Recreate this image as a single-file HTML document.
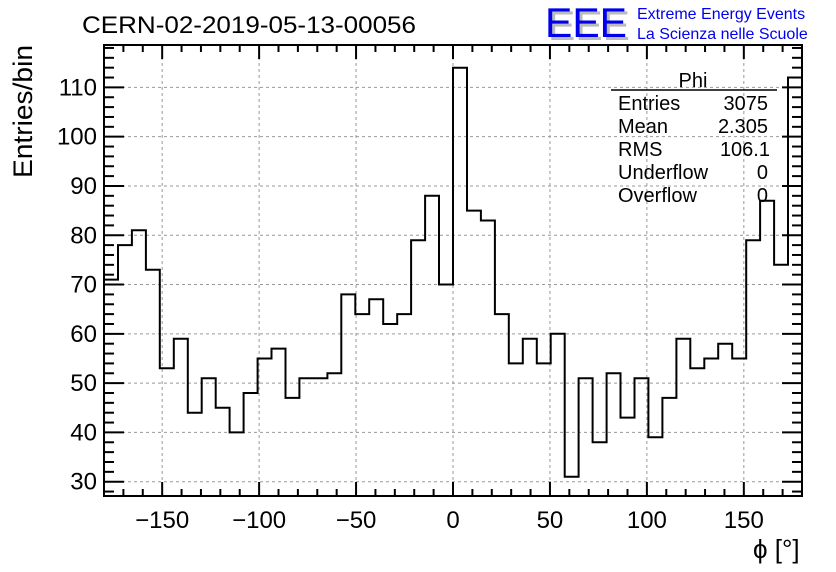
<!DOCTYPE html>
<html><head><meta charset="utf-8"><style>
html,body{margin:0;padding:0;background:#fff;}
svg{display:block;font-family:"Liberation Sans",Arial,sans-serif;}
</style></head><body>
<svg id="chart" width="836" height="572" viewBox="0 0 836 572" xmlns="http://www.w3.org/2000/svg">
<rect width="836" height="572" fill="#fff"/>
<text x="82" y="33" font-size="24" fill="#000" textLength="334" lengthAdjust="spacingAndGlyphs">CERN-02-2019-05-13-00056</text>
<g>
<text x="548" y="40" font-size="42" fill="#bbb" textLength="82" lengthAdjust="spacingAndGlyphs">EEE</text>
<text x="545" y="37" font-size="42" fill="#0000ee" textLength="82" lengthAdjust="spacingAndGlyphs">EEE</text>
<text x="637" y="19" font-size="16" fill="#0000ee">Extreme Energy Events</text>
<text x="637" y="39" font-size="16" fill="#0000ee">La Scienza nelle Scuole</text>
</g>
<g id="grid"></g>
<g id="ticks"></g>
<path id="hist" fill="none" stroke="#000" stroke-width="2"/>
<rect x="104" y="45" width="698" height="451" fill="none" stroke="#000" stroke-width="2"/>
<g id="labels"></g>
<text transform="translate(32,178) rotate(-90)" font-size="27" fill="#000" textLength="133" lengthAdjust="spacingAndGlyphs">Entries/bin</text>
<text x="753" y="558" font-size="26" fill="#000">ϕ [°]</text>
<g font-size="20" fill="#000">
<text x="693" y="87" text-anchor="middle">Phi</text>
<line x1="611" y1="90" x2="777" y2="90" stroke="#000" stroke-width="1.5"/>
<text x="618" y="110">Entries</text><text x="768" y="110" text-anchor="end">3075</text>
<text x="618" y="133">Mean</text><text x="768" y="133" text-anchor="end">2.305</text>
<text x="618" y="156">RMS</text><text x="770" y="156" text-anchor="end">106.1</text>
<text x="618" y="179">Underflow</text><text x="768" y="179" text-anchor="end">0</text>
<text x="618" y="202">Overflow</text><text x="768" y="202" text-anchor="end">0</text>
</g>
</svg>
<script>
const binEdgesMin = -180;
const binWidthDeg = 7.2;
const counts = [71,78,81,73,53,59,44,51,45,40,48,55,57,47,51,51,52,68,64,67,62,64,79,88,70,
114,85,83,64,54,59,54,60,31,51,38,52,43,51,39,47,59,53,55,58,55,79,87,74,112];
const xTicks = [-150,-100,-50,0,50,100,150];
const xTickLabels = ["\u2212150","\u2212100","\u221250","0","50","100","150"];
const yTicks = [30,40,50,60,70,80,90,100,110];
const yTickLabels = ["30","40","50","60","70","80","90","100","110"];

const L=104,R=802,T=45,B=496;
const xMin=-180,xMax=180,yMin=27.1,yMax=118.6;
const X=v=>L+(v-xMin)/(xMax-xMin)*(R-L);
const Y=v=>B-(v-yMin)/(yMax-yMin)*(B-T);
const NS='http://www.w3.org/2000/svg';
function mk(tag,attrs,parent){const e=document.createElementNS(NS,tag);for(const k in attrs)e.setAttribute(k,attrs[k]);parent.appendChild(e);return e;}
const grid=document.getElementById('grid'),ticks=document.getElementById('ticks'),labels=document.getElementById('labels');
xTicks.forEach((t,i)=>{
  const g=mk('line',{x1:X(t),x2:X(t),y1:T,y2:B,stroke:'#999','stroke-width':1,'stroke-dasharray':'3,3'},grid);
  
  
  const lb=mk('text',{x:X(t),y:528,'font-size':24,'text-anchor':'middle',fill:'#000'},labels);
  lb.textContent=xTickLabels[i];
  
  
});
yTicks.forEach((t,i)=>{
  const g=mk('line',{x1:L,x2:R,y1:Y(t),y2:Y(t),stroke:'#999','stroke-width':1,'stroke-dasharray':'3,3'},grid);
  
  
  const lb=mk('text',{x:97,y:Y(t)+8,'font-size':24,'text-anchor':'end',fill:'#000'},labels);
  lb.textContent=yTickLabels[i];
  
  
});
for(let v=-180;v<=180;v+=10){
  const len=(v%50===0)?14:7;
  mk('line',{x1:X(v),x2:X(v),y1:B,y2:B-len,stroke:'#000','stroke-width':2},ticks);
  mk('line',{x1:X(v),x2:X(v),y1:T,y2:T+len,stroke:'#000','stroke-width':2},ticks);
}
for(let v=28;v<=118;v+=2){
  const len=(v%10===0)?20:10;
  mk('line',{x1:L,x2:L+len,y1:Y(v),y2:Y(v),stroke:'#000','stroke-width':2},ticks);
  mk('line',{x1:R,x2:R-len,y1:Y(v),y2:Y(v),stroke:'#000','stroke-width':2},ticks);
}
let d='';
counts.forEach((c,i)=>{
  const x0=X(binEdgesMin+i*binWidthDeg),x1=X(binEdgesMin+(i+1)*binWidthDeg);
  d+=(i===0?'M':'L')+x0.toFixed(1)+','+Y(c).toFixed(1)+'L'+x1.toFixed(1)+','+Y(c).toFixed(1);
});
document.getElementById('hist').setAttribute('d',d);
</script>
</body></html>
